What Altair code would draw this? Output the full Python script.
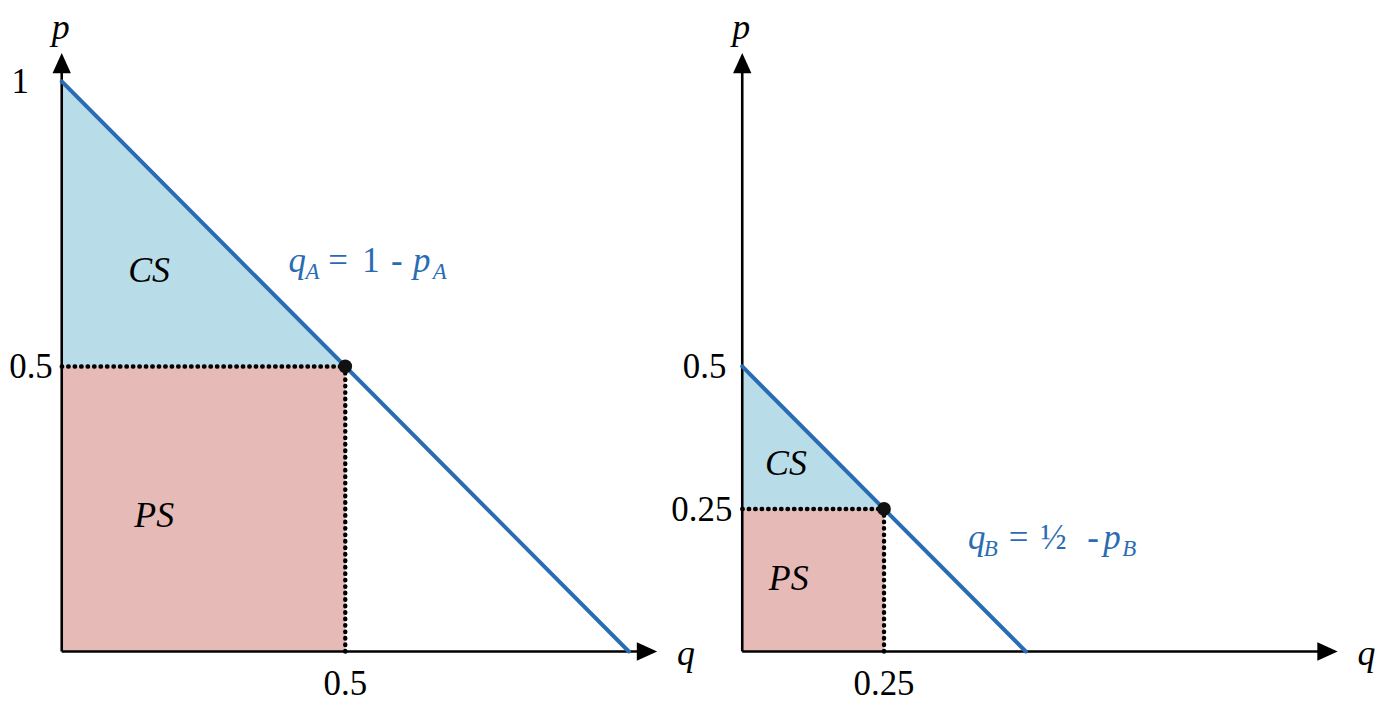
import altair as alt
import pandas as pd

# ---- data ----
INTERCEPTS = [1.0, 0.5]          # demand: q = a - p
EQ_Q = [0.5, 0.25]               # equilibrium quantity
EQ_P = [0.5, 0.25]               # equilibrium price
AXIS_MAX = [1.05, 1.05]          # arrow tips (data units)
Y_TICK_VALUES = [[1.0, 0.5], [0.5, 0.25]]
Y_TICK_LABELS = [["1", "0.5"], ["0.5", "0.25"]]
X_TICK_VALUES = [[0.5], [0.25]]
X_TICK_LABELS = [["0.5"], ["0.25"]]
SUBSCRIPTS = ["A", "B"]
EQ_CONST = ["1", "½"]
AREA_LABELS = ["CS", "PS"]

BLUE = "#2a6cb3"
CS_FILL = "#b9dde8"
PS_FILL = "#e6bab6"
FONT = "Liberation Serif"

X_DOM = [-54 / 570, 630 / 570]
Y_DOM = [-48 / 573, 645 / 573]
W, H = 684, 693

xs = alt.Scale(domain=X_DOM, nice=False, zero=False)
ys = alt.Scale(domain=Y_DOM, nice=False, zero=False)


def X(field="q"):
    return alt.X(f"{field}:Q", scale=xs, axis=None)


def Y(field="p"):
    return alt.Y(f"{field}:Q", scale=ys, axis=None)


def panel(i):
    a, qs, ps, top = INTERCEPTS[i], EQ_Q[i], EQ_P[i], AXIS_MAX[i]
    layers = []

    # consumer surplus triangle
    cs = pd.DataFrame({"q": [0, qs], "p": [a, ps], "p2": [ps, ps]})
    layers.append(alt.Chart(cs).mark_area(color=CS_FILL, opacity=1, interpolate="linear")
                  .encode(x=X(), y=Y(), y2="p2:Q"))
    # producer surplus rectangle
    psr = pd.DataFrame({"q": [0], "q2": [qs], "p": [0], "p2": [ps]})
    layers.append(alt.Chart(psr).mark_rect(color=PS_FILL, opacity=1)
                  .encode(x=X(), x2="q2:Q", y=Y(), y2="p2:Q"))
    # dotted guide lines
    dot = dict(color="black", strokeWidth=4.4, strokeDash=[0.5, 6.0], strokeCap="round")
    hd = pd.DataFrame({"q": [0], "q2": [qs], "p": [ps]})
    vd = pd.DataFrame({"q": [qs], "p": [0], "p2": [ps]})
    layers.append(alt.Chart(hd).mark_rule(**dot).encode(x=X(), x2="q2:Q", y=Y()))
    layers.append(alt.Chart(vd).mark_rule(**dot).encode(x=X(), y=Y(), y2="p2:Q"))
    # axes
    ax = dict(color="black", strokeWidth=2.6)
    xa = pd.DataFrame({"q": [0], "q2": [top * 0.985], "p": [0]})
    ya = pd.DataFrame({"q": [0], "p": [0], "p2": [top * 0.985]})
    layers.append(alt.Chart(xa).mark_rule(**ax).encode(x=X(), x2="q2:Q", y=Y()))
    layers.append(alt.Chart(ya).mark_rule(**ax).encode(x=X(), y=Y(), y2="p2:Q"))
    # demand line
    dl = pd.DataFrame({"q": [0, a], "p": [a, 0]})
    layers.append(alt.Chart(dl).mark_line(color=BLUE, strokeWidth=4, strokeCap="round")
                  .encode(x=X(), y=Y()))
    # equilibrium point
    eq = pd.DataFrame({"q": [qs], "p": [ps]})
    layers.append(alt.Chart(eq).mark_point(filled=True, color="#111111", opacity=1, size=190)
                  .encode(x=X(), y=Y()))
    # arrow heads
    up = pd.DataFrame({"q": [0], "p": [top]})
    rt = pd.DataFrame({"q": [top], "p": [0]})
    layers.append(alt.Chart(up).mark_point(shape="M0,0L0.9,2L-0.9,2Z", filled=True, color="black",
                                           opacity=1, size=420, strokeWidth=0)
                  .encode(x=X(), y=Y()))
    layers.append(alt.Chart(rt).mark_point(shape="M0,0L-2,-0.9L-2,0.9Z", filled=True, color="black",
                                           opacity=1, size=420, strokeWidth=0)
                  .encode(x=X(), y=Y()))

    name = dict(font=FONT, fontSize=36, color="black")
    tick = dict(font=FONT, fontSize=35, color="black")
    # axis names
    pn = pd.DataFrame({"q": [0], "p": [top], "t": ["p"]})
    layers.append(alt.Chart(pn).mark_text(fontStyle="italic", align="center", baseline="alphabetic",
                                          dy=-14, dx=-1, **name)
                  .encode(x=X(), y=Y(), text="t:N"))
    qn = pd.DataFrame({"q": [top], "p": [0], "t": ["q"]})
    layers.append(alt.Chart(qn).mark_text(fontStyle="italic", align="left", baseline="alphabetic",
                                          dx=20, dy=14, **name)
                  .encode(x=X(), y=Y(), text="t:N"))
    # y tick labels
    ydx = [[-33, -9], [-16, -10]]
    for j, (v, lab) in enumerate(zip(Y_TICK_VALUES[i], Y_TICK_LABELS[i])):
        d = pd.DataFrame({"q": [0], "p": [v], "t": [lab]})
        layers.append(alt.Chart(d).mark_text(align="right", baseline="middle", dx=ydx[i][j], dy=1, **tick)
                      .encode(x=X(), y=Y(), text="t:N"))
    # x tick labels
    for v, lab in zip(X_TICK_VALUES[i], X_TICK_LABELS[i]):
        d = pd.DataFrame({"q": [v], "p": [0], "t": [lab]})
        layers.append(alt.Chart(d).mark_text(align="center", baseline="alphabetic", dy=44, **tick)
                      .encode(x=X(), y=Y(), text="t:N"))
    # CS / PS labels
    cs_pos = [(0.154, 0.668), (0.077, 0.328)][i]
    ps_pos = [(0.163, 0.237), (0.082, 0.127)][i]
    d = pd.DataFrame({"q": [cs_pos[0], ps_pos[0]], "p": [cs_pos[1], ps_pos[1]], "t": AREA_LABELS})
    layers.append(alt.Chart(d).mark_text(fontStyle="italic", align="center", baseline="middle", **name)
                  .encode(x=X(), y=Y(), text="t:N"))
    # demand equation, built from pieces
    anchor = [(0.400, 0.665), (0.398, 0.180)][i]
    sub = SUBSCRIPTS[i]
    fs, sfs = 35, 23
    offs = [[0, 17, 40, 74, 103, 125, 145], [0, 16, 41, 73, 120, 136, 155]][i]
    pieces = [
        ("q", "italic", fs, 0),
        (sub, "italic", sfs, 7),
        ("=", "normal", fs, 0),
        (EQ_CONST[i], "normal", fs, 0),
        ("-", "normal", fs, 0),
        ("p", "italic", fs, 0),
        (sub, "italic", sfs, 7),
    ]
    for (t, style, size, dy), dx in zip(pieces, offs):
        d = pd.DataFrame({"q": [anchor[0]], "p": [anchor[1]], "t": [t]})
        layers.append(alt.Chart(d).mark_text(font=FONT, fontSize=size, fontStyle=style, color=BLUE,
                                             align="left", baseline="alphabetic", dx=dx, dy=dy)
                      .encode(x=X(), y=Y(), text="t:N"))

    return alt.layer(*layers).properties(width=W, height=H)


chart = alt.hconcat(panel(0), panel(1), spacing=0, bounds="flush").properties(
    padding=0
).configure_view(stroke=None)

chart.save("out.html", embed_options={"renderer": "svg", "actions": False})
